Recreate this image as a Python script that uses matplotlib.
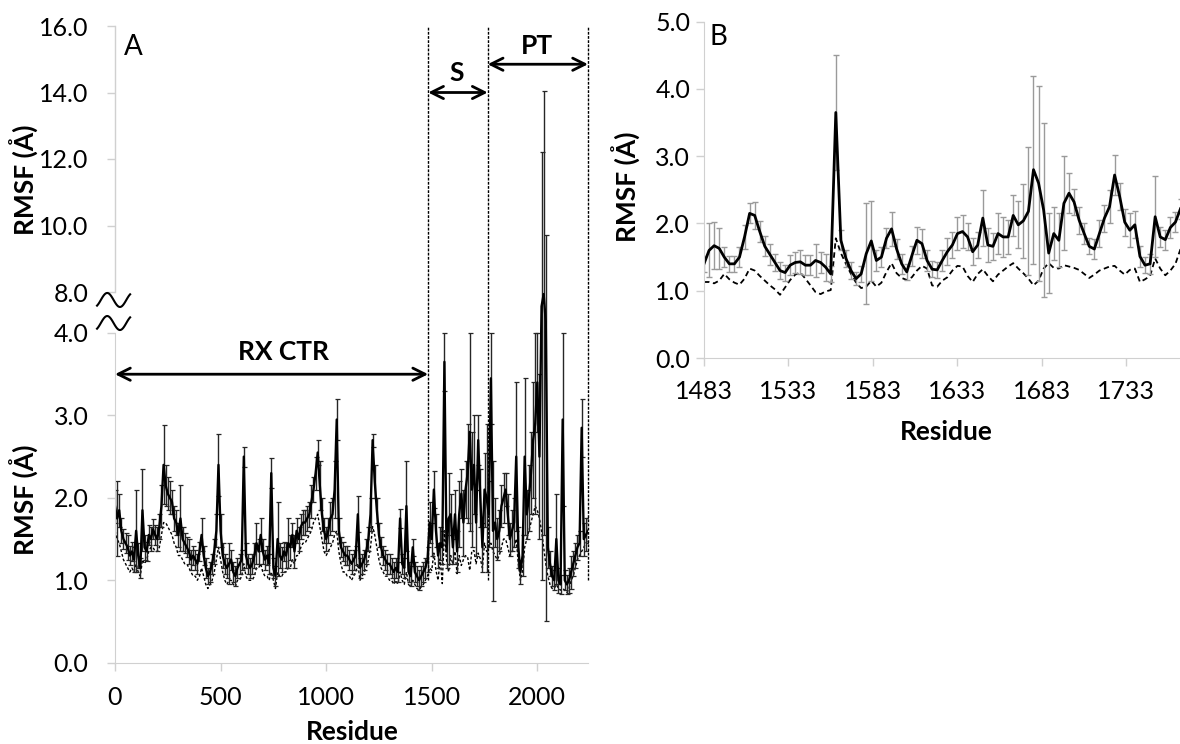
import numpy as np
import matplotlib.pyplot as plt
from matplotlib.ticker import NullLocator

plt.rcParams['font.family'] = ['Lato', 'DejaVu Sans']

# Panel A: whole protein, one value every 10 residues
res_a = np.arange(0, 2241, 10)
rmsf_a = [
    1.90, 1.75, 1.85, 1.60, 1.50, 1.45, 1.40, 1.30, 1.35, 1.25,
    1.60, 1.30, 1.15, 1.85, 1.40, 1.35, 1.55, 1.50, 1.62, 1.55,
    1.50, 1.65, 1.90, 2.40, 2.15, 2.05, 2.00, 1.95, 1.75, 1.70,
    1.55, 1.75, 1.50, 1.45, 1.40, 1.35, 1.25, 1.30, 1.25, 1.20,
    1.35, 1.55, 1.30, 1.15, 1.05, 1.10, 1.20, 1.35, 1.60, 2.40,
    1.60, 1.30, 1.20, 1.15, 1.20, 1.25, 1.10, 1.05, 1.15, 1.20,
    1.25, 2.50, 1.30, 1.20, 1.15, 1.20, 1.30, 1.45, 1.35, 1.55,
    1.35, 1.25, 1.30, 1.20, 2.30, 1.15, 1.05, 1.50, 1.30, 1.25,
    1.35, 1.30, 1.45, 1.40, 1.55, 1.35, 1.60, 1.50, 1.65, 1.70,
    1.70, 1.75, 1.80, 1.95, 2.10, 2.30, 2.55, 2.15, 1.80, 1.60,
    1.50, 1.60, 1.75, 1.80, 2.10, 2.95, 1.60, 1.40, 1.35, 1.30,
    1.30, 1.25, 1.20, 1.25, 1.30, 1.80, 1.15, 1.20, 1.25, 1.35,
    1.50, 1.80, 2.70, 2.20, 1.85, 1.55, 1.40, 1.30, 1.25, 1.20,
    1.20, 1.15, 1.10, 1.15, 1.10, 1.75, 1.20, 1.15, 1.90, 1.10,
    1.05, 1.40, 1.10, 1.05, 1.00, 1.05, 1.10, 1.15, 1.25, 1.70,
    1.50, 2.10, 1.60, 1.30, 1.45, 1.40, 3.65, 1.35, 1.75, 1.80,
    1.40, 1.80, 1.35, 1.80, 2.05, 1.70, 2.10, 2.30, 2.80, 2.10,
    2.40, 1.70, 2.70, 2.00, 1.40, 2.10, 2.00, 1.80, 3.45, 1.60,
    1.70, 1.50, 1.60, 1.90, 2.00, 2.10, 1.80, 1.50, 1.60, 1.70,
    2.50, 1.40, 1.10, 1.30, 2.50, 1.80, 2.00, 2.30, 2.70, 2.90,
    3.40, 2.50, 6.60, 7.80, 5.10, 1.40, 1.20, 1.05, 1.00, 1.50,
    1.00, 0.95, 2.95, 1.00, 0.95, 1.00, 1.10, 1.20, 1.30, 1.40,
    1.45, 2.85, 1.50, 1.55, 1.60,
]
err_a = [
    0.20, 0.45, 0.20, 0.15, 0.12, 0.12, 0.15, 0.12, 0.12, 0.15,
    0.50, 0.15, 0.12, 0.50, 0.15, 0.12, 0.12, 0.15, 0.12, 0.12,
    0.15, 0.15, 0.25, 0.48, 0.25, 0.20, 0.20, 0.15, 0.15, 0.15,
    0.15, 0.40, 0.15, 0.12, 0.12, 0.15, 0.12, 0.12, 0.12, 0.12,
    0.12, 0.20, 0.12, 0.12, 0.10, 0.12, 0.12, 0.15, 0.20, 0.38,
    0.20, 0.15, 0.12, 0.12, 0.25, 0.12, 0.12, 0.12, 0.12, 0.12,
    0.12, 0.12, 0.15, 0.12, 0.12, 0.12, 0.15, 0.25, 0.15, 0.20,
    0.15, 0.12, 0.12, 0.12, 0.18, 0.12, 0.12, 0.45, 0.15, 0.15,
    0.12, 0.15, 0.30, 0.15, 0.15, 0.20, 0.15, 0.15, 0.15, 0.15,
    0.15, 0.15, 0.15, 0.20, 0.15, 0.20, 0.15, 0.30, 0.20, 0.15,
    0.15, 0.15, 0.20, 0.20, 0.35, 0.25, 0.15, 0.12, 0.12, 0.12,
    0.12, 0.12, 0.12, 0.12, 0.12, 0.22, 0.12, 0.12, 0.12, 0.15,
    0.15, 0.20, 0.08, 0.20, 0.15, 0.15, 0.12, 0.12, 0.12, 0.12,
    0.12, 0.12, 0.12, 0.12, 0.12, 0.12, 0.12, 0.12, 0.55, 0.12,
    0.12, 0.10, 0.12, 0.12, 0.12, 0.12, 0.12, 0.12, 0.15, 0.25,
    0.20, 0.22, 0.20, 0.15, 0.20, 0.20, 0.35, 0.20, 0.55, 0.25,
    0.20, 0.30, 0.25, 0.40, 0.30, 0.40, 0.35, 0.60, 1.20, 0.70,
    0.60, 0.40, 0.30, 0.35, 0.30, 0.45, 0.90, 0.40, 0.55, 0.85,
    0.30, 0.25, 0.25, 0.25, 0.30, 0.20, 0.25, 0.20, 0.25, 0.30,
    0.90, 0.25, 0.15, 0.25, 0.95, 0.30, 0.40, 0.50, 0.70, 1.10,
    0.60, 1.00, 5.60, 6.25, 4.60, 0.25, 0.15, 0.12, 0.12, 0.55,
    0.15, 0.12, 1.05, 0.12, 0.12, 0.15, 0.20, 0.15, 0.15, 0.15,
    0.15, 0.35, 0.20, 0.20, 0.15,
]
ref_a = [
    1.60, 1.50, 1.45, 1.35, 1.25, 1.20, 1.15, 1.10, 1.15, 1.10,
    1.20, 1.10, 1.05, 1.25, 1.20, 1.25, 1.35, 1.40, 1.40, 1.35,
    1.35, 1.40, 1.55, 1.70, 1.70, 1.65, 1.60, 1.55, 1.45, 1.40,
    1.30, 1.30, 1.25, 1.20, 1.20, 1.15, 1.10, 1.05, 1.05, 1.00,
    1.05, 1.15, 1.05, 0.95, 0.90, 0.95, 1.00, 1.10, 1.25, 1.40,
    1.25, 1.10, 1.00, 0.95, 1.00, 1.00, 0.95, 0.92, 1.00, 1.00,
    1.05, 1.20, 1.05, 1.00, 1.00, 1.00, 1.05, 1.15, 1.15, 1.20,
    1.10, 1.05, 1.05, 1.00, 1.10, 1.00, 0.90, 1.10, 1.05, 1.05,
    1.10, 1.10, 1.15, 1.15, 1.25, 1.20, 1.30, 1.30, 1.40, 1.45,
    1.45, 1.50, 1.55, 1.60, 1.70, 1.75, 1.80, 1.65, 1.50, 1.35,
    1.30, 1.35, 1.40, 1.45, 1.55, 1.60, 1.35, 1.20, 1.10, 1.10,
    1.05, 1.05, 1.00, 1.05, 1.10, 1.20, 1.00, 1.05, 1.10, 1.15,
    1.25, 1.40, 1.65, 1.55, 1.40, 1.25, 1.15, 1.10, 1.05, 1.05,
    1.00, 1.00, 0.95, 1.00, 0.95, 1.10, 1.00, 0.95, 1.10, 0.95,
    0.92, 1.00, 0.95, 0.90, 0.88, 0.92, 0.95, 1.00, 1.05, 1.15,
    1.12, 1.33, 1.12, 1.00, 1.26, 0.96, 1.60, 1.25, 1.10, 1.30,
    1.19, 1.35, 1.08, 1.30, 1.18, 1.25, 1.30, 1.28, 1.12, 1.36,
    1.36, 1.20, 1.33, 1.26, 1.15, 1.45, 1.35, 1.40, 1.45, 1.35,
    1.30, 1.25, 1.30, 1.40, 1.50, 1.50, 1.40, 1.30, 1.35, 1.40,
    1.50, 1.20, 1.00, 1.10, 1.40, 1.50, 1.60, 1.70, 1.80, 1.90,
    1.85, 1.75, 1.60, 1.40, 1.20, 1.05, 0.95, 0.90, 0.90, 0.95,
    0.90, 0.88, 0.90, 0.88, 0.85, 0.90, 1.00, 1.05, 1.15, 1.25,
    1.30, 1.35, 1.40, 1.45, 1.50,
]

# Panel B: S region, one value every 3 residues
res_b = np.arange(1483, 1766, 3)
rmsf_b = [
    1.40, 1.60, 1.67, 1.63, 1.50, 1.40, 1.40, 1.50, 1.80, 2.15,
    2.12, 1.88, 1.66, 1.54, 1.42, 1.30, 1.27, 1.38, 1.42, 1.43,
    1.38, 1.38, 1.45, 1.42, 1.35, 1.25, 3.65, 1.75, 1.48, 1.30,
    1.18, 1.25, 1.55, 1.74, 1.45, 1.50, 1.78, 1.92, 1.62, 1.40,
    1.28, 1.52, 1.75, 1.70, 1.45, 1.32, 1.31, 1.45, 1.58, 1.68,
    1.85, 1.88, 1.80, 1.58, 1.68, 2.08, 1.68, 1.66, 1.85, 1.80,
    1.80, 2.12, 1.98, 2.04, 2.18, 2.80, 2.60, 2.20, 1.56, 1.85,
    1.75, 2.30, 2.45, 2.32, 2.05, 1.85, 1.66, 1.62, 1.85, 2.08,
    2.25, 2.72, 2.40, 2.02, 1.90, 1.98, 1.51, 1.38, 1.40, 2.10,
    1.80, 1.76, 1.94, 2.02, 2.22,
]
err_b = [
    0.12, 0.40, 0.35, 0.30, 0.15, 0.12, 0.12, 0.15, 0.18, 0.15,
    0.20, 0.15, 0.15, 0.15, 0.12, 0.12, 0.12, 0.15, 0.15, 0.18,
    0.15, 0.15, 0.25, 0.15, 0.20, 0.12, 0.85, 0.15, 0.12, 0.12,
    0.10, 0.12, 0.75, 0.60, 0.15, 0.15, 0.15, 0.25, 0.15, 0.15,
    0.12, 0.15, 0.20, 0.22, 0.15, 0.12, 0.12, 0.15, 0.20, 0.20,
    0.25, 0.25, 0.20, 0.20, 0.20, 0.42, 0.25, 0.20, 0.30, 0.30,
    0.25, 0.30, 0.35, 0.55, 0.95, 1.40, 1.45, 1.30, 0.60, 0.40,
    0.40, 0.70, 0.30, 0.20, 0.20, 0.15, 0.12, 0.15, 0.20, 0.20,
    0.25, 0.30, 0.20, 0.20, 0.25, 0.20, 0.15, 0.12, 0.15, 0.60,
    0.15, 0.15, 0.15, 0.15, 0.15,
]
ref_b = [
    1.13, 1.13, 1.11, 1.15, 1.25, 1.17, 1.12, 1.09, 1.18, 1.33,
    1.30, 1.22, 1.15, 1.08, 1.02, 0.94, 1.05, 1.16, 1.24, 1.27,
    1.18, 1.08, 0.98, 0.95, 0.99, 1.01, 1.78, 1.56, 1.40, 1.25,
    1.12, 1.04, 1.06, 1.15, 1.06, 1.12, 1.28, 1.41, 1.26, 1.19,
    1.16, 1.20, 1.30, 1.37, 1.33, 1.08, 1.06, 1.15, 1.20, 1.30,
    1.37, 1.36, 1.22, 1.13, 1.25, 1.32, 1.22, 1.14, 1.24, 1.30,
    1.36, 1.41, 1.33, 1.26, 1.18, 1.08, 1.15, 1.33, 1.41, 1.34,
    1.33, 1.38, 1.36, 1.34, 1.31, 1.25, 1.19, 1.24, 1.30, 1.33,
    1.36, 1.37, 1.30, 1.24, 1.31, 1.33, 1.13, 1.17, 1.22, 1.48,
    1.33, 1.23, 1.30, 1.40, 1.62,
]

# domain boundaries (residue numbers)
domain_edges = [1483, 1765, 2240]

GREY = '#d0d0d0'
W, H = 1180, 744

fig = plt.figure(figsize=(W / 100, H / 100), dpi=100)

# ---------------- Panel A (broken y axis: 0-4 then 8-16) ----------------
axA = fig.add_axes([115 / W, 81.3 / H, 473 / W, 636.7 / H])
brk_v = [0, 4, 8, 16]
brk_p = [0, 329.7, 370.7, 636.7]
axA.set_yscale('function',
               functions=(lambda y: np.interp(y, brk_v, brk_p),
                          lambda p: np.interp(p, brk_p, brk_v)))
axA.set_xlim(0, 2240)
axA.set_ylim(0, 16)

axA.plot(res_a, ref_a, color='k', lw=1.0, ls=(0, (2, 1.5)))
axA.errorbar(res_a, rmsf_a, yerr=err_a, fmt='none', ecolor='#262626',
             elinewidth=1.0, capsize=1.8, capthick=0.9)
axA.plot(res_a, rmsf_a, color='k', lw=1.7)

for x in domain_edges:
    axA.plot([x, x], [1.0, 16.4], color='k', lw=1, ls=(0, (2, 1)), clip_on=False)

arrow = dict(arrowstyle='<->', lw=2, color='k', shrinkA=0, shrinkB=0, mutation_scale=22)
axA.annotate('', xy=(0, 3.5), xytext=(domain_edges[0], 3.5), arrowprops=arrow)
axA.annotate('', xy=(domain_edges[0], 14.0), xytext=(domain_edges[1], 14.0), arrowprops=arrow)
axA.annotate('', xy=(domain_edges[1], 14.85), xytext=(domain_edges[2], 14.85), arrowprops=arrow)
axA.text(796, 3.77, 'RX CTR', ha='center', va='center', fontsize=19, fontweight='bold')
axA.text(1620, 14.6, 'S', ha='center', va='center', fontsize=19, fontweight='bold')
axA.text(2000, 15.4, 'PT', ha='center', va='center', fontsize=19, fontweight='bold')

for s in ['top', 'right']:
    axA.spines[s].set_visible(False)
axA.spines['left'].set_bounds(0, 4)
for s in ['left', 'bottom']:
    axA.spines[s].set_color(GREY)
axA.plot([0, 0], [8, 16], transform=axA.get_yaxis_transform(), color=GREY, lw=1, clip_on=False)

yt = [0, 1, 2, 3, 4, 8, 10, 12, 14, 16]
axA.set_yticks(yt)
axA.set_yticklabels(['%.1f' % v for v in yt])
axA.yaxis.set_minor_locator(NullLocator())
axA.set_xticks([0, 500, 1000, 1500, 2000])
axA.tick_params(axis='both', direction='out', length=6, width=1, color=GREY, labelsize=18)
axA.tick_params(axis='y', pad=13)
axA.tick_params(axis='x', pad=11)

# axis break marks
t = np.linspace(-0.3 * np.pi, 2.3 * np.pi, 60)
xs = -0.038 + (t - t[0]) / (t[-1] - t[0]) * 0.07
for yc in (0.5697, 0.5335):
    axA.plot(xs, yc + 0.011 * np.sin(t), transform=axA.transAxes, color='k', lw=1.5, clip_on=False)

fig.text(133 / W, 1 - 46.7 / H, 'A', fontsize=20, ha='center', va='center')
fig.text(24 / W, 1 - 180 / H, 'RMSF (Å)', rotation=90, fontsize=19, fontweight='bold',
         ha='center', va='center')
fig.text(24 / W, 1 - 500 / H, 'RMSF (Å)', rotation=90, fontsize=19, fontweight='bold',
         ha='center', va='center')
fig.text(352 / W, 1 - 732 / H, 'Residue', fontsize=19, fontweight='bold', ha='center', va='center')

# ---------------- Panel B (S region zoom) ----------------
axB = fig.add_axes([704 / W, 386 / H, 476 / W, 336.3 / H])
axB.set_xlim(1483, 1764.7)
axB.set_ylim(0, 5)

axB.plot(res_b, ref_b, color='k', lw=1.3, ls=(0, (3, 2)))
axB.errorbar(res_b, rmsf_b, yerr=err_b, fmt='none', ecolor='#9a9a9a',
             elinewidth=1, capsize=2, capthick=1)
axB.plot(res_b, rmsf_b, color='k', lw=2.0)

for s in ['top', 'right']:
    axB.spines[s].set_visible(False)
for s in ['left', 'bottom']:
    axB.spines[s].set_color(GREY)
axB.set_xticks(np.arange(1483, 1764, 50))
axB.set_yticks(np.arange(0, 6))
axB.set_yticklabels(['%.1f' % v for v in range(6)])
axB.tick_params(axis='both', direction='out', length=6, width=1, color=GREY, labelsize=18)
axB.tick_params(axis='y', pad=4)
axB.tick_params(axis='x', pad=10)

fig.text(718 / W, 1 - 36.7 / H, 'B', fontsize=20, ha='center', va='center')
fig.text(626 / W, 1 - 187 / H, 'RMSF (Å)', rotation=90, fontsize=19, fontweight='bold',
         ha='center', va='center')
fig.text(946 / W, 1 - 432 / H, 'Residue', fontsize=19, fontweight='bold', ha='center', va='center')

fig.savefig('out.png', dpi=100)
